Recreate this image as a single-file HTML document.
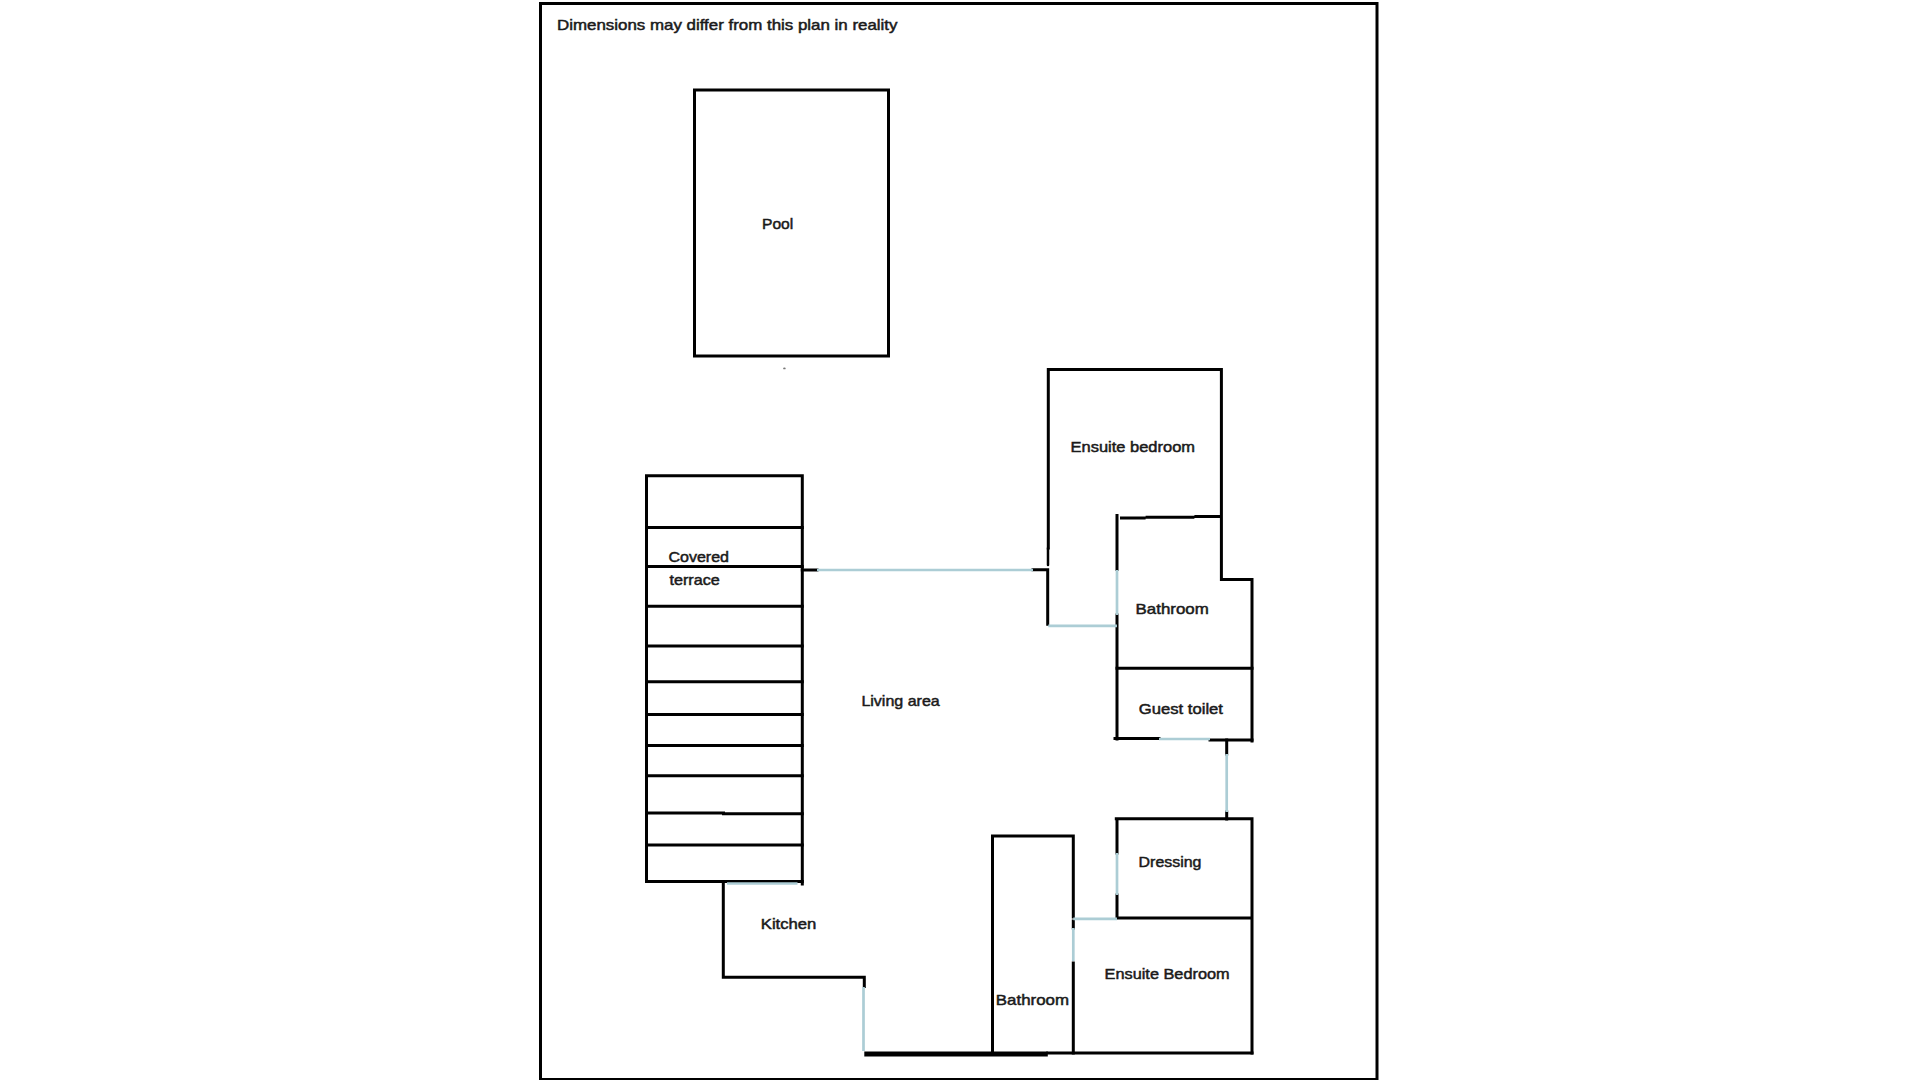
<!DOCTYPE html>
<html><head><meta charset="utf-8"><title>Floor plan</title>
<style>
html,body{margin:0;padding:0;background:#fff;width:1920px;height:1080px;overflow:hidden}
svg{position:absolute;left:0;top:0;display:block}
#wrap{position:absolute;left:0;top:0;width:1920px;height:1080px}
text{font-family:"Liberation Sans",sans-serif;font-size:15px;fill:#1a1a1a;stroke:#1a1a1a;stroke-width:0.5px}
</style></head><body><div id="wrap">
<svg width="1920" height="1080" viewBox="0 0 1920 1080">
<rect x="0" y="0" width="1920" height="1080" fill="#fff"/>
<g fill="none" stroke="#000" stroke-width="3" stroke-linecap="square" stroke-linejoin="miter">
<!-- outer border -->
<rect x="540.5" y="3.5" width="836.5" height="1076"/>
<!-- pool -->
<rect x="694.5" y="90" width="194" height="266"/>
<!-- terrace -->
<path d="M646.5 475.8H802.3V884M646.5 475.8V881.5H726"/>
<path d="M646.5 527.4H802.3M646.5 566.4H802.3M646.5 606.3H802.3M646.5 646.1H802.3M646.5 681.7H802.3M646.5 714.4H802.3M646.5 745.6H802.3M646.5 775.7H802.3M646.5 813H723.5M723.5 813.7H802.3M646.5 845H802.3M646.5 881.5H802.3"/>
<!-- living top stubs -->
<path d="M802.3 570H817"/>
<!-- ensuite bedroom -->
<path d="M1048.3 548V369.6H1221.4V579.5H1252V741"/>
<path d="M1033 569.8H1047.7V624.2"/>
<path d="M1048 548V565" stroke-width="2.5" stroke-linecap="round"/>
<path d="M1117 515.5V569.6M1117 615V739"/>
<path d="M1120 517.9H1145.6M1145.6 517.3H1194.4M1194.4 516.5H1221.4" stroke-linecap="butt"/>
<path d="M1117 668.2H1252"/>
<path d="M1115 738.5H1159M1210 740H1252"/>
<path d="M1226.7 740V754M1226.7 812V819"/>
<!-- dressing -->
<path d="M1116.3 818.8H1252V1053M1117 818.8V853M1117 895V918H1252"/>
<!-- lower bathroom -->
<path d="M992.5 1053V836H1073.3V917M1073.3 921V928M1073.3 963V1053"/>
<path d="M1047.8 1053H1252"/>
<!-- kitchen -->
<path d="M723.3 881.5V977.3H864.3V986.5"/>
</g>
<path d="M864.3 1054H1047.8" stroke="#000" stroke-width="5" fill="none"/>
<g fill="none" stroke="#accdd5" stroke-width="2.7" stroke-linecap="butt">
<path d="M817 570H1033"/>
<path d="M727 883.5H797.5"/>
<path d="M1117 570V615"/>
<path d="M1048.3 625.8H1117"/>
<path d="M1159 739H1210"/>
<path d="M1226.7 754V812"/>
<path d="M1117 853V895"/>
<path d="M1073.3 918.9H1117"/>
<path d="M1073.3 928V961"/>
<path d="M863.5 987V1051"/>
</g>
<ellipse cx="784.4" cy="368.4" rx="1.3" ry="0.9" fill="#777"/>
<!-- texts -->
<text x="557.0" y="30.3" textLength="340.5" lengthAdjust="spacingAndGlyphs">Dimensions may differ from this plan in reality</text>
<text x="762.0" y="229" textLength="31.2" lengthAdjust="spacingAndGlyphs">Pool</text>
<text x="1070.6" y="451.9" textLength="124.4" lengthAdjust="spacingAndGlyphs">Ensuite bedroom</text>
<text x="668.4" y="562.2" textLength="60.6" lengthAdjust="spacingAndGlyphs">Covered</text>
<text x="669.4" y="584.7" textLength="50.4" lengthAdjust="spacingAndGlyphs">terrace</text>
<text x="1135.6" y="614" textLength="73.2" lengthAdjust="spacingAndGlyphs">Bathroom</text>
<text x="861.4" y="705.5" textLength="78.4" lengthAdjust="spacingAndGlyphs">Living area</text>
<text x="1138.8" y="714" textLength="84.2" lengthAdjust="spacingAndGlyphs">Guest toilet</text>
<text x="1138.6" y="866.7" textLength="62.8" lengthAdjust="spacingAndGlyphs">Dressing</text>
<text x="760.8" y="928.7" textLength="55.6" lengthAdjust="spacingAndGlyphs">Kitchen</text>
<text x="1104.6" y="978.8" textLength="125.0" lengthAdjust="spacingAndGlyphs">Ensuite Bedroom</text>
<text x="995.8" y="1005.2" textLength="73.2" lengthAdjust="spacingAndGlyphs">Bathroom</text>
</svg></div>
</body></html>
